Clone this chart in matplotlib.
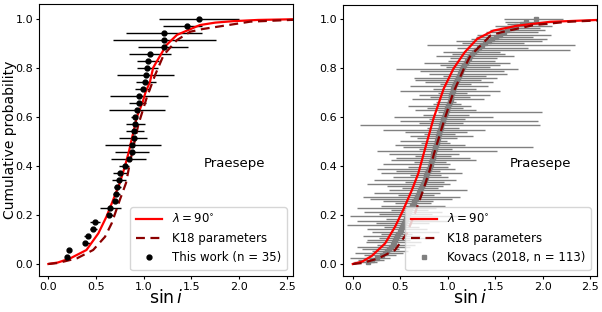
import numpy as np
import matplotlib
matplotlib.use("Agg")
import matplotlib.pyplot as plt

plt.rcParams.update({
    "font.family": "DejaVu Sans",
    "font.size": 8.5,
    "xtick.labelsize": 8,
    "ytick.labelsize": 8,
    "xtick.major.size": 2.5,
    "ytick.major.size": 2.5,
    "xtick.major.pad": 1.8,
    "ytick.major.pad": 1.8,
})

# ── Model curves ────────────────────────────────────────────────────────────
left_l90_x = [0.0, 0.1, 0.23, 0.40, 0.525, 0.61, 0.68, 0.75, 0.805, 0.85, 0.87, 0.93,
              0.99, 1.02, 1.067, 1.10, 1.137, 1.24, 1.35, 1.47, 1.59, 1.75, 1.94, 2.2, 2.6]
left_l90_y = [0.0, 0.006, 0.023, 0.057, 0.125, 0.193, 0.261, 0.33, 0.40, 0.465, 0.50, 0.60,
              0.66, 0.70, 0.743, 0.80, 0.825, 0.893, 0.934, 0.954, 0.974, 0.984, 0.99, 0.995, 0.998]
left_k18_x = [0.0, 0.1, 0.30, 0.47, 0.595, 0.665, 0.75, 0.815, 0.86, 0.90, 0.944, 1.03,
              1.12, 1.21, 1.35, 1.49, 1.62, 1.77, 2.12, 2.6]
left_k18_y = [0.0, 0.004, 0.023, 0.057, 0.111, 0.166, 0.261, 0.33, 0.42, 0.49, 0.567, 0.675,
              0.77, 0.852, 0.913, 0.947, 0.958, 0.967, 0.988, 0.996]

right_l90_x = [0.0, 0.1, 0.2, 0.34, 0.445, 0.53, 0.62, 0.69, 0.75, 0.85, 0.957, 1.06,
               1.18, 1.31, 1.48, 1.73, 2.08, 2.6]
right_l90_y = [0.0, 0.01, 0.033, 0.084, 0.152, 0.22, 0.30, 0.37, 0.455, 0.594, 0.716, 0.798,
               0.866, 0.92, 0.954, 0.974, 0.99, 0.998]
right_k18_x = [0.0, 0.1, 0.27, 0.445, 0.57, 0.655, 0.74, 0.81, 0.855, 0.957, 1.06, 1.17,
               1.24, 1.31, 1.38, 1.45, 1.56, 1.91, 2.26, 2.6]
right_k18_y = [0.0, 0.004, 0.023, 0.057, 0.125, 0.207, 0.30, 0.383, 0.45, 0.58, 0.702, 0.798,
               0.852, 0.879, 0.906, 0.934, 0.947, 0.977, 0.99, 0.996]

# ── This work (n = 35): sin i, lower end, upper end of error bar ────────────
tw_x  = [0.20, 0.22, 0.38, 0.42, 0.47, 0.49, 0.64, 0.65, 0.70, 0.71, 0.72, 0.74,
         0.75, 0.80, 0.85, 0.88, 0.88, 0.90, 0.90, 0.91, 0.91, 0.93, 0.95, 0.95,
         0.99, 1.01, 1.02, 1.04, 1.05, 1.07, 1.21, 1.21, 1.21, 1.46, 1.58]
tw_lo = [0.20, 0.22, 0.37, 0.37, 0.44, 0.44, 0.61, 0.54, 0.68, 0.68, 0.69, 0.67,
         0.68, 0.74, 0.66, 0.70, 0.59, 0.74, 0.81, 0.82, 0.87, 0.64, 0.85, 0.65,
         0.91, 0.92, 0.72, 0.93, 0.93, 0.85, 0.94, 0.68, 0.82, 1.20, 1.16]
tw_hi = [0.20, 0.22, 0.44, 0.44, 0.51, 0.54, 0.68, 0.76, 0.73, 0.75, 0.76, 0.81,
         0.83, 0.85, 1.03, 1.06, 1.18, 1.04, 1.00, 1.01, 0.93, 1.22, 1.03, 1.26,
         1.07, 1.13, 1.32, 1.15, 1.16, 1.29, 1.47, 1.76, 1.61, 1.61, 2.00]

# ── Kovacs (2018), n = 113 ─────────────────────────────────────────────────
kv_x = [0.16, 0.20, 0.26, 0.31, 0.34, 0.36, 0.38, 0.40, 0.42, 0.43,
        0.45, 0.46, 0.47, 0.48, 0.50, 0.51, 0.52, 0.53, 0.54, 0.55,
        0.56, 0.57, 0.58, 0.59, 0.59, 0.60, 0.62, 0.64, 0.65, 0.67,
        0.68, 0.69, 0.70, 0.71, 0.72, 0.73, 0.74, 0.75, 0.76, 0.77,
        0.77, 0.78, 0.79, 0.80, 0.81, 0.82, 0.82, 0.83, 0.84, 0.84,
        0.85, 0.86, 0.87, 0.87, 0.88, 0.89, 0.89, 0.90, 0.90, 0.91,
        0.91, 0.92, 0.93, 0.93, 0.94, 0.95, 0.95, 0.96, 0.97, 0.98,
        0.99, 0.99, 1.00, 1.01, 1.02, 1.03, 1.03, 1.04, 1.05, 1.06,
        1.06, 1.07, 1.08, 1.09, 1.10, 1.11, 1.12, 1.13, 1.14, 1.15,
        1.16, 1.17, 1.19, 1.20, 1.22, 1.24, 1.26, 1.28, 1.30, 1.33,
        1.36, 1.39, 1.43, 1.47, 1.51, 1.55, 1.59, 1.63, 1.68, 1.72,
        1.78, 1.83, 1.93]
kv_lo = [0.01, 0.05, -0.03, 0.12, 0.02, 0.20, 0.10, 0.04, 0.25, 0.14,
         0.15, 0.28, 0.11, 0.30, 0.20, 0.15, 0.33, -0.06, 0.24, 0.04,
         0.35, -0.03, 0.28, 0.12, 0.40, 0.04, 0.30, 0.45, 0.32, 0.18,
         0.11, 0.48, 0.22, 0.38, 0.52, 0.36, 0.15, 0.55, 0.22, 0.42,
         0.60, 0.30, 0.46, 0.25, 0.58, 0.32, 0.64, 0.40, 0.46, 0.66,
         0.38, 0.25, 0.70, 0.53, 0.45, 0.72, 0.50, 0.68, 0.60, 0.75,
         0.55, 0.32, 0.78, 0.08, 0.70, 0.50, 0.80, 0.43, 0.74, 0.90,
         0.66, 0.78, 0.58, 0.85, 0.88, 0.62, 0.81, 0.70, 0.90, 0.50,
         0.84, 0.60, 0.92, 0.76, 0.66, 0.64, 0.95, 0.80, 0.71, 0.46,
         0.98, 0.92, 0.75, 1.00, 1.02, 0.88, 1.05, 0.95, 1.20, 1.10,
         0.78, 1.15, 1.09, 1.25, 1.30, 1.31, 1.40, 1.45, 1.55, 1.50,
         1.62, 1.60, 1.59]
kv_hi = [0.25, 0.33, 0.39, 0.46, 0.53, 0.58, 0.49, 0.60, 0.66, 0.72,
         0.60, 0.84, 0.71, 0.62, 0.91, 0.78, 0.70, 0.60, 0.80, 0.99,
         0.74, 1.16, 0.83, 0.94, 0.79, 0.88, 0.97, 0.82, 0.85, 1.05,
         1.13, 0.86, 0.92, 1.20, 0.90, 0.95, 1.02, 0.96, 1.09, 1.00,
         0.93, 1.15, 0.92, 1.08, 1.00, 1.02, 0.98, 1.30, 1.24, 1.03,
         1.12, 1.52, 1.05, 1.90, 1.18, 1.02, 0.99, 1.10, 1.27, 1.08,
         1.20, 1.39, 1.12, 1.97, 1.16, 1.95, 1.18, 1.48, 1.22, 1.99,
         1.30, 1.16, 1.25, 1.14, 1.09, 1.38, 1.24, 1.45, 1.20, 1.55,
         1.30, 1.42, 1.25, 1.48, 1.35, 1.52, 1.40, 1.62, 1.59, 1.74,
         1.45, 1.55, 1.66, 1.50, 1.52, 1.70, 1.60, 1.55, 2.29, 1.85,
         2.34, 1.80, 1.99, 2.05, 1.90, 2.09, 1.95, 2.02, 1.97, 2.10,
         2.05, 2.15, 2.22]


def cdf_y(xs):
    n = len(xs)
    return np.arange(1, n + 1) / n


fig = plt.figure(figsize=(6.02, 3.12), dpi=100)
ax1 = fig.add_axes([39.3 / 602, 36 / 312, 253.4 / 602, 272 / 312])
ax2 = fig.add_axes([343.3 / 602, 36 / 312, 253.4 / 602, 271.3 / 312])

# ── Left panel ────────────────────────────────────────────────────────────
tx = np.array(tw_x)
ty = cdf_y(tx)
xerr = [tx - np.array(tw_lo), np.array(tw_hi) - tx]
ax1.errorbar(tx, ty, xerr=xerr, fmt="none", ecolor="black", elinewidth=1.0, zorder=2)
ax1.plot(left_l90_x, left_l90_y, color="red", lw=1.6, zorder=3, label=r"$\lambda = 90^{\circ}$")
ax1.plot(left_k18_x, left_k18_y, color="#8b0000", lw=1.6, ls=(0, (4, 2.5)), zorder=3,
         label="K18 parameters")
ax1.plot(tx, ty, "o", color="black", ms=3.5, zorder=4, label="This work (n = 35)")

ax1.text(1.63, 0.41, "Praesepe", fontsize=9.5, va="center")
ax1.set_xlim(-0.095, 2.565)
ax1.set_ylim(-0.049, 1.06)
ax1.set_ylabel("Cumulative probability", fontsize=10)
ax1.yaxis.label.set_va("center")
ax1.yaxis.set_label_coords(-0.115, 0.5)
ax1.set_xlabel(r"$\sin i$", fontsize=12.5)
ax1.xaxis.label.set_va("center")
ax1.xaxis.set_label_coords(0.5, -0.08)
ax1.set_xticks([0.0, 0.5, 1.0, 1.5, 2.0, 2.5])
ax1.set_yticks([0.0, 0.2, 0.4, 0.6, 0.8, 1.0])
ax1.legend(loc="lower right", fontsize=8.5, handlelength=2.2, borderpad=0.5)

# ── Right panel ───────────────────────────────────────────────────────────
kx = np.array(kv_x)
ky = cdf_y(kx)
kerr = [kx - np.array(kv_lo), np.array(kv_hi) - kx]
ax2.errorbar(kx, ky, xerr=kerr, fmt="none", ecolor="#808080", elinewidth=1.0, zorder=2)
ax2.plot(kx, ky, "s", color="gray", ms=3.2, zorder=3, label="Kovacs (2018, n = 113)")
ax2.plot(right_l90_x, right_l90_y, color="red", lw=1.6, zorder=4, label=r"$\lambda = 90^{\circ}$")
ax2.plot(right_k18_x, right_k18_y, color="#8b0000", lw=1.6, ls=(0, (4, 2.5)), zorder=4,
         label="K18 parameters")

ax2.text(1.65, 0.41, "Praesepe", fontsize=9.5, va="center")
ax2.set_xlim(-0.1, 2.57)
ax2.set_ylim(-0.049, 1.06)
ax2.set_xlabel(r"$\sin i$", fontsize=12.5)
ax2.xaxis.label.set_va("center")
ax2.xaxis.set_label_coords(0.5, -0.08)
ax2.set_xticks([0.0, 0.5, 1.0, 1.5, 2.0, 2.5])
ax2.set_yticks([0.0, 0.2, 0.4, 0.6, 0.8, 1.0])
h, l = ax2.get_legend_handles_labels()
ax2.legend([h[1], h[2], h[0]], [l[1], l[2], l[0]], loc="lower right", fontsize=8.5,
           handlelength=2.2, borderpad=0.5)

fig.savefig("out.png", dpi=100)
